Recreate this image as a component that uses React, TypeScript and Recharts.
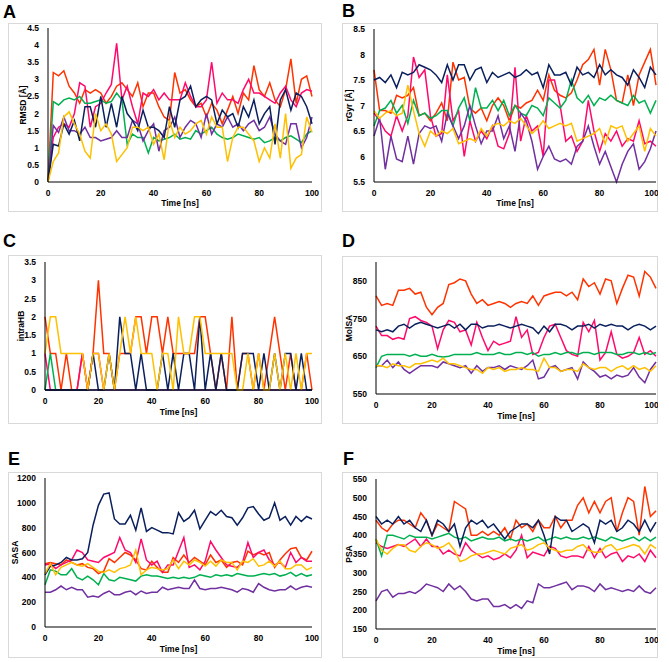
import { Label, Line, LineChart, XAxis, YAxis } from 'recharts';

const time = [
  0, 2, 4, 6, 8, 10, 12, 14, 16, 18,
  20, 22, 24, 26, 28, 30, 32, 34, 36, 38,
  40, 42, 44, 46, 48, 50, 52, 54, 56, 58,
  60, 62, 64, 66, 68, 70, 72, 74, 76, 78,
  80, 82, 84, 86, 88, 90, 92, 94, 96, 98,
  100,
];
const xTicks = [0, 20, 40, 60, 80, 100];

// A: RMSD
const rmsdOrange = [
  0, 3.2, 3.1, 3.25, 2.8, 2.6, 2.3, 2.7, 2.6, 2.7,
  2.6, 2.3, 2.5, 2.8, 2.9, 2.7, 2.5, 2.9, 2.2, 2.6,
  2.6, 2.2, 1.9, 1.8, 3.2, 2.6, 2.7, 2.4, 2.2, 2.3,
  1.9, 2.3, 2.1, 1.7, 2.1, 2.5, 2.0, 2.6, 2.4, 3.4,
  2.7, 2.5, 2.9, 2.4, 2.2, 2.7, 3.6, 2.3, 3.0, 3.1,
  2.5,
];
const rmsdPink = [
  0, 1.3, 1.6, 1.7, 1.6, 2.0, 2.9, 2.8, 1.6, 2.2,
  2.3, 2.6, 2.85, 4.05, 2.4, 2.8, 2.2, 1.7, 2.6, 2.5,
  2.7, 2.4, 2.6, 2.4, 2.4, 2.4, 2.9, 2.5, 2.2, 2.2,
  2.4, 3.5, 2.3, 2.6, 2.4, 2.4, 2.3, 2.7, 3.0, 2.6,
  2.6, 2.5, 2.4, 2.3, 2.6, 2.8, 2.4, 2.2, 2.6, 2.7,
  2.65,
];
const rmsdGreen = [
  0, 2.35, 2.25, 2.4, 2.45, 2.4, 2.5, 2.3, 2.3, 2.35,
  2.4, 2.3, 2.35, 2.6, 2.4, 1.1, 1.4, 1.3, 1.3, 0.85,
  1.3, 1.2, 1.25, 1.3, 1.4, 1.25, 1.3, 1.25, 1.5, 1.4,
  1.5, 1.6, 1.4, 1.3, 1.25, 1.3, 1.4, 1.35, 1.3, 1.25,
  1.3, 1.15, 1.2, 1.3, 1.2, 1.3, 1.35, 1.25, 1.15, 1.4,
  1.5,
];
const rmsdNavy = [
  0, 1.1, 1.05, 1.7, 1.4, 1.8, 1.2, 2.2, 2.2, 1.6,
  2.5, 1.6, 2.3, 1.6, 2.5, 2.0, 1.8, 1.5, 2.1, 1.6,
  1.6, 1.5, 1.3, 2.2, 1.6, 2.4, 2.5, 2.8, 2.2, 2.4,
  2.5, 2.4, 1.7, 2.1, 1.9, 2.0, 1.6, 2.2, 1.9, 2.4,
  1.7, 2.0, 2.2, 1.1, 2.4, 2.7, 2.1, 2.6, 2.5, 2.2,
  1.7,
];
const rmsdYellow = [
  0, 0.6, 0.85, 1.9, 2.05, 1.7, 1.4, 0.9, 0.7, 2.0,
  1.5, 1.7, 1.4, 0.6, 0.8, 1.0, 1.6, 1.6, 1.5, 1.6,
  1.1, 1.4, 0.65, 1.8, 1.3, 1.6, 1.4, 1.5, 1.7, 1.8,
  1.4, 1.9, 1.6, 1.6, 0.6, 1.3, 1.6, 1.6, 1.4, 1.2,
  0.6, 1.0, 0.7, 1.7, 0.7, 2.0, 0.4, 0.7, 0.8, 1.9,
  1.45,
];
const rmsdPurple = [
  0, 1.65, 1.45, 1.9, 1.5, 1.5, 1.4, 1.6, 1.3, 1.3,
  1.2, 1.25, 1.3, 1.5, 1.3, 1.3, 1.8, 1.7, 1.2, 1.5,
  1.7, 0.9, 1.5, 1.6, 1.9, 1.3, 1.6, 1.8, 1.7, 1.3,
  2.0, 1.4, 1.7, 1.6, 1.9, 1.6, 1.7, 1.5, 1.7, 1.8,
  1.5, 1.6, 1.9, 1.4, 1.2, 1.1, 1.7, 1.7, 1.0, 1.3,
  1.9,
];

// B: rGyr
const rgyrOrange = [
  7.7, 6.9, 6.9, 6.85, 7.2, 7.15, 7.2, 7.35, 6.8, 6.85,
  6.7, 6.85, 7.05, 6.7, 7.85, 7.5, 7.55, 6.95, 6.85, 6.95,
  6.7, 7.0, 7.15, 7.0, 6.7, 7.0, 6.95, 7.05, 7.1, 7.3,
  7.1, 7.6, 7.3, 7.2, 7.15, 7.25, 7.5, 7.8, 7.9, 8.1,
  7.4, 8.1, 7.7, 7.1, 7.05, 7.6, 7.0, 7.6, 7.85, 8.1,
  7.4,
];
const rgyrPink = [
  6.85, 6.7, 6.5, 6.4, 6.8, 6.5, 6.8, 7.95, 7.55, 7.7,
  6.8, 6.4, 6.45, 7.6, 6.7, 6.9, 6.0, 6.7, 6.3, 6.5,
  6.35, 6.6, 6.2, 6.15, 6.45, 7.75, 6.3, 6.8, 6.5, 6.6,
  6.0, 7.5, 7.5, 7.0, 6.3, 6.4, 6.1, 6.3, 7.1, 6.5,
  6.1, 6.45, 6.3, 6.5, 6.2, 6.35, 6.3, 6.7, 6.25, 6.3,
  6.2,
];
const rgyrGreen = [
  6.6, 6.9, 6.95, 7.1, 6.85, 7.0, 6.65, 7.1, 6.8, 6.85,
  6.75, 6.8, 6.9, 6.9, 6.6, 6.95, 7.15, 6.7, 7.35, 6.95,
  6.95, 7.1, 6.9, 7.1, 6.8, 7.0, 6.85, 6.8, 7.0, 6.95,
  6.8, 7.15, 7.05, 6.95, 7.1, 7.5, 7.15, 7.05, 7.2, 7.0,
  7.15, 7.1, 7.2, 7.1, 7.05, 7.0, 7.2, 7.05, 7.1, 6.85,
  7.1,
];
const rgyrNavy = [
  7.5, 7.55, 7.45, 7.6, 7.35, 7.65, 7.6, 7.65, 7.8, 7.75,
  7.7, 7.6, 7.45, 7.8, 7.5, 7.8, 7.8, 7.5, 7.7, 7.75,
  7.45, 7.65, 7.55, 7.6, 7.65, 7.55, 7.6, 7.7, 7.6, 7.65,
  7.35, 7.8, 7.6, 7.6, 7.65, 7.4, 7.75, 7.6, 7.65, 7.55,
  7.8, 7.6, 7.7, 7.6, 7.55, 7.4, 7.7, 7.55, 7.35, 7.75,
  7.6,
];
const rgyrYellow = [
  6.9, 6.75, 6.85, 6.9, 6.8, 6.85, 7.4, 6.9, 6.45, 6.2,
  6.5, 6.4, 6.5, 6.45, 6.55, 6.25, 6.3, 6.35, 6.3, 6.55,
  6.4, 6.6, 6.65, 6.6, 6.7, 6.65, 6.75, 6.6, 6.45, 6.55,
  6.7, 6.55, 6.6, 6.65, 6.6, 6.65, 6.3, 6.35, 6.4, 6.45,
  6.55, 6.25, 6.6, 6.55, 6.6, 6.3, 6.45, 6.6, 6.1, 6.55,
  6.4,
];
const rgyrPurple = [
  6.4, 6.75, 5.75, 6.4, 5.95, 5.9, 6.4, 5.85, 6.45, 6.6,
  6.55, 6.6, 6.3, 6.85, 6.6, 6.35, 6.6, 7.0, 6.6, 6.25,
  6.5, 6.5, 6.8, 6.35, 6.6, 6.1, 6.85, 6.7, 6.3, 5.75,
  6.0, 6.2, 5.95, 5.9, 5.95, 5.85, 6.2, 6.3, 6.6, 6.2,
  5.85, 6.1, 5.8, 5.5, 5.85, 6.1, 6.25, 5.75, 5.9, 6.15,
  6.5,
];

// C: intraHB
const hbOrange = [
  2, 1, 1, 0, 1, 0, 0, 1, 0, 1,
  3, 1, 1, 0, 1, 1, 1, 2, 2, 1,
  2, 2, 1, 2, 1, 1, 1, 1, 1, 2,
  2, 1, 0, 1, 0, 2, 0, 1, 1, 0,
  1, 0, 1, 2, 1, 0, 1, 0, 0, 1,
  0,
];
const hbPink = [
  1, 0, 0, 0, 0, 0, 0, 1, 0, 1,
  1, 0, 0, 0, 0, 0, 0, 0, 0, 0,
  0, 0, 0, 0, 0, 0, 0, 0, 0, 0,
  0, 0, 0, 0, 0, 0, 0, 0, 0, 0,
  0, 0, 0, 0, 0, 0, 0, 0, 0, 0,
  0,
];
const hbGreen = [
  0, 1, 0, 0, 0, 0, 0, 0, 0, 0,
  0, 0, 0, 0, 0, 0, 0, 0, 0, 0,
  0, 0, 0, 0, 0, 0, 0, 0, 0, 0,
  0, 0, 0, 0, 0, 0, 0, 0, 0, 0,
  0, 0, 0, 0, 0, 0, 0, 0, 0, 0,
  0,
];
const hbNavy = [
  0, 0, 0, 0, 0, 0, 0, 0, 0, 1,
  0, 0, 1, 0, 2, 1, 1, 0, 1, 0,
  0, 0, 1, 0, 1, 0, 1, 1, 0, 2,
  0, 1, 0, 1, 0, 0, 0, 1, 1, 1,
  0, 1, 0, 1, 0, 1, 1, 0, 1, 0,
  0,
];
const hbYellow = [
  1, 2, 2, 1, 1, 1, 1, 1, 0, 1,
  1, 0, 1, 0, 1, 2, 1, 2, 1, 1,
  1, 0, 1, 1, 0, 2, 1, 1, 2, 2,
  1, 1, 1, 1, 1, 1, 0, 0, 1, 0,
  1, 0, 0, 1, 0, 1, 0, 1, 0, 1,
  1,
];
const hbPurple = [
  0, 0, 0, 0, 0, 0, 0, 0, 0, 0,
  0, 0, 0, 0, 0, 0, 0, 0, 0, 0,
  0, 0, 0, 0, 0, 0, 0, 0, 0, 0,
  0, 0, 0, 0, 0, 0, 0, 0, 0, 0,
  0, 0, 0, 0, 0, 0, 0, 0, 0, 0,
  0,
];

// D: MolSA
const molOrange = [
  810, 785, 790, 785, 825, 825, 830, 815, 820, 780,
  760, 780, 790, 840, 845, 855, 850, 815, 790, 800,
  785, 790, 795, 790, 780, 790, 795, 790, 810, 785,
  810, 815, 820, 820, 810, 820, 800, 855, 835, 845,
  815, 855, 850, 790, 830, 865, 860, 810, 875, 860,
  830,
];
const molPink = [
  730, 705, 705, 695, 700, 695, 750, 755, 745, 740,
  730, 670, 720, 745, 740, 715, 720, 680, 740, 700,
  665, 690, 680, 685, 690, 755, 700, 720, 655, 660,
  700, 730, 735, 700, 665, 655, 650, 740, 715, 745,
  640, 660, 715, 655, 645, 650, 660, 700, 655, 665,
  650,
];
const molGreen = [
  620, 650, 655, 655, 655, 655, 650, 655, 650, 650,
  655, 650, 648, 650, 655, 655, 655, 655, 660, 655,
  655, 655, 660, 655, 655, 660, 660, 655, 660, 650,
  655, 655, 660, 655, 660, 660, 655, 660, 660, 655,
  660, 660, 660, 655, 655, 660, 660, 655, 660, 655,
  660,
];
const molNavy = [
  720, 715, 720, 715, 730, 735, 725, 735, 740, 735,
  730, 725, 730, 735, 725, 735, 720, 735, 735, 725,
  730, 730, 735, 730, 725, 730, 735, 730, 725, 710,
  730, 715, 735, 735, 730, 720, 730, 730, 735, 725,
  735, 730, 735, 730, 730, 720, 730, 735, 730, 720,
  730,
];
const molYellow = [
  625, 625, 620, 630, 625, 625, 620, 630, 630, 635,
  640, 635, 645, 630, 630, 625, 620, 615, 615, 605,
  620, 615, 620, 610, 615, 615, 620, 615, 615, 610,
  645, 620, 620, 610, 615, 615, 610, 630, 620, 615,
  620, 620, 610, 620, 625, 615, 625, 615, 620, 610,
  625,
];
const molPurple = [
  625, 625, 640, 620, 635, 615, 605, 615, 625, 625,
  625, 620, 635, 630, 625, 620, 625, 605, 625, 610,
  620, 620, 625, 615, 625, 620, 615, 625, 640, 590,
  595, 620, 625, 610, 615, 620, 590, 635, 620, 610,
  595, 600, 590, 600, 595, 600, 620, 595, 580, 615,
  635,
];

// E: SASA
const sasaOrange = [
  510, 520, 510, 500, 540, 520, 500, 510, 480, 470,
  430, 450, 550, 520, 560, 600, 580, 540, 470, 460,
  530, 480, 440, 440, 560, 520, 580, 520, 560, 530,
  500, 580, 520, 540, 480, 520, 530, 500, 610, 580,
  600, 580, 600, 480, 540, 590, 630, 640, 560, 540,
  610,
];
const sasaPink = [
  500, 510, 470, 500, 520, 540, 620, 600, 540, 530,
  520, 560, 580, 600, 720, 620, 600, 520, 710, 540,
  500, 530, 440, 500, 500, 610, 720, 480, 500, 460,
  530, 690, 620, 560, 500, 490, 480, 520, 680, 560,
  600, 620, 540, 500, 520, 480, 600, 520, 560, 530,
  530,
];
const sasaGreen = [
  340, 460, 450, 420, 420, 470, 400, 380, 410, 380,
  340, 430, 380, 370, 400, 390, 380, 370, 410, 420,
  410, 410, 400, 390, 400, 390, 400, 390, 400, 420,
  410, 400, 420, 410, 420, 410, 430, 420, 410, 410,
  420, 430, 420, 430, 410, 420, 440, 410, 430, 410,
  420,
];
const sasaNavy = [
  420, 490, 500, 520, 560, 540, 540, 550, 600, 820,
  980, 1070, 1080, 870, 830, 830, 900, 780, 960, 770,
  800, 780, 760, 760, 750, 920, 850, 880, 940, 790,
  860, 930, 900, 940, 890, 880, 820, 880, 960, 970,
  910, 860, 880, 1000, 860, 890, 820, 890, 850, 890,
  870,
];
const sasaYellow = [
  430, 510, 420, 480, 500, 520, 500, 490, 510, 480,
  450, 440, 460, 440, 470, 480, 500, 620, 420, 460,
  480, 470, 460, 470, 540, 470, 530, 500, 540, 520,
  490, 530, 490, 540, 520, 520, 460, 530, 520, 550,
  490, 500, 530, 490, 530, 470, 470, 500, 500, 460,
  480,
];
const sasaPurple = [
  280, 280, 300, 330, 300, 320, 300, 300, 240, 250,
  240, 270, 290, 260, 260, 280, 290, 260, 290, 270,
  280, 280, 320, 300, 310, 320, 310, 310, 380, 310,
  300, 310, 310, 320, 310, 300, 280, 310, 300, 280,
  350, 320, 300, 290, 300, 300, 330, 300, 320, 330,
  320,
];

// F: PSA
const psaOrange = [
  440, 420, 410, 430, 440, 440, 430, 420, 460, 440,
  400, 430, 420, 410, 490, 480, 470, 400, 400, 410,
  400, 410, 400, 420, 390, 440, 420, 430, 410, 440,
  420, 420, 450, 420, 440, 440, 480, 500, 460, 490,
  460, 490, 500, 410, 460, 500, 490, 400, 530, 450,
  465,
];
const psaPink = [
  380, 370, 365, 370, 375, 370, 380, 390, 370, 390,
  370, 370, 350, 360, 350, 345, 380, 360, 350, 340,
  345, 335, 340, 350, 340, 360, 400, 340, 355, 350,
  345, 370, 365, 345, 340, 345, 345, 340, 370, 340,
  365, 340, 350, 355, 330, 345, 340, 350, 330, 360,
  340,
];
const psaGreen = [
  390, 345, 400, 400, 395, 390, 400, 395, 395, 395,
  390, 395, 400, 405, 395, 390, 395, 385, 390, 395,
  390, 390, 395, 385, 390, 385, 390, 385, 390, 395,
  385, 390, 395, 390, 395, 390, 390, 395, 390, 395,
  390, 385, 395, 390, 385, 390, 395, 385, 395, 385,
  395,
];
const psaNavy = [
  450, 430, 440, 430, 450, 430, 440, 420, 410, 440,
  400, 440, 430, 410, 430, 370, 420, 440, 430, 440,
  420, 430, 410, 390, 410, 420, 430, 430, 420, 440,
  400, 350, 450, 440, 440, 410, 420, 430, 420, 380,
  440, 430, 440, 410, 420, 440, 430, 410, 440, 410,
  435,
];
const psaYellow = [
  390, 360, 350, 365, 375, 375, 360, 355, 370, 380,
  375, 365, 370, 380, 360, 330, 335, 345, 350, 350,
  355, 360, 355, 350, 365, 370, 375, 360, 365, 375,
  380, 365, 360, 355, 360, 360, 370, 375, 360, 355,
  355, 370, 375, 360, 365, 370, 375, 370, 350, 375,
  365,
];
const psaPurple = [
  225, 250, 255, 235, 245, 245, 250, 245, 255, 270,
  265, 260, 250, 270, 255, 265, 250, 230, 225, 230,
  230, 210, 210, 215, 205, 215, 205, 225, 220, 270,
  260, 260, 265, 270, 275, 255, 265, 265, 260, 250,
  270, 255, 260, 255, 250, 255, 250, 265, 250, 245,
  260,
];

const ORANGE = '#ff3300';
const PINK = '#ff0a6c';
const GREEN = '#00b050';
const NAVY = '#0a1f5c';
const YELLOW = '#ffc000';
const PURPLE = '#7030a0';

const FONT = '"Liberation Sans", Arial, sans-serif';

type Series = { key: string; color: string; values: number[] };

interface PanelProps {
  frame: [number, number, number, number];
  plot: [number, number, number, number];
  yDomain: [number, number];
  yTicks: number[];
  yTitle: string;
  yTitleX: number;
  xTitleY: number;
  series: Series[];
}

const Panel = ({ frame, plot, yDomain, yTicks, yTitle, yTitleX, xTitleY, series }: PanelProps) => {
  const [fx, fy, fw, fh] = frame;
  const [px1, py1, px2, py2] = plot;
  const rows = time.map((t, i) => {
    const row: Record<string, number> = { t };
    series.forEach((s) => {
      row[s.key] = s.values[i];
    });
    return row;
  });
  const tickStyle = { fontSize: 8.5, fontWeight: 700, fill: '#000', fontFamily: FONT };
  const titleStyle = { fontSize: 8.5, fontWeight: 700, fill: '#000', fontFamily: FONT } as const;
  const cy = (py1 + py2) / 2 - fy;
  const tx = yTitleX - fx;
  return (
    <>
      <div
        style={{
          position: 'absolute',
          left: fx,
          top: fy,
          width: fw,
          height: fh,
          border: '1px solid #d9d9d9',
          boxSizing: 'border-box',
        }}
      />
      <div style={{ position: 'absolute', left: fx, top: fy, width: fw, height: fh }}>
        <LineChart
          width={fw}
          height={fh}
          data={rows}
          margin={{ top: py1 - fy, right: fx + fw - px2, left: 2, bottom: 0 }}
        >
          <XAxis
            dataKey="t"
            type="number"
            domain={[0, 100]}
            ticks={xTicks}
            height={fy + fh - py2}
            tick={tickStyle}
            tickLine={false}
            axisLine={{ stroke: '#000', strokeWidth: 1 }}
          >
            <Label
              content={() => (
                <text
                  x={(px1 + px2) / 2 - fx}
                  y={xTitleY - fy}
                  textAnchor="middle"
                  dominantBaseline="central"
                  style={titleStyle}
                >
                  Time [ns]
                </text>
              )}
            />
          </XAxis>
          <YAxis
            type="number"
            domain={yDomain}
            ticks={yTicks}
            width={px1 - fx - 2}
            tick={tickStyle}
            tickLine={false}
            tickMargin={3}
            axisLine={{ stroke: '#000', strokeWidth: 1 }}
          >
            <Label
              content={() => (
                <text
                  x={tx}
                  y={cy}
                  transform={`rotate(-90 ${tx} ${cy})`}
                  textAnchor="middle"
                  dominantBaseline="central"
                  style={titleStyle}
                >
                  {yTitle}
                </text>
              )}
            />
          </YAxis>
          {series.map((s) => (
            <Line
              key={s.key}
              type="linear"
              dataKey={s.key}
              stroke={s.color}
              strokeWidth={1.5}
              dot={false}
              isAnimationActive={false}
            />
          ))}
        </LineChart>
      </div>
    </>
  );
};

const mk = (o: number[], p: number[], g: number[], n: number[], y: number[], u: number[]): Series[] => [
  { key: 'orange', color: ORANGE, values: o },
  { key: 'pink', color: PINK, values: p },
  { key: 'green', color: GREEN, values: g },
  { key: 'purple', color: PURPLE, values: u },
  { key: 'navy', color: NAVY, values: n },
  { key: 'yellow', color: YELLOW, values: y },
];

const letters = [
  { t: 'A', x: 3, y: 18 },
  { t: 'B', x: 342, y: 17 },
  { t: 'C', x: 3, y: 247 },
  { t: 'D', x: 342, y: 247 },
  { t: 'E', x: 8, y: 465 },
  { t: 'F', x: 343, y: 465 },
];

export default function App() {
  return (
    <div style={{ position: 'absolute', left: 0, top: 0, width: 669, height: 662, background: '#fff' }}>
      <svg width={669} height={662} style={{ position: 'absolute', left: 0, top: 0 }}>
        {letters.map((l) => (
          <text key={l.t} x={l.x} y={l.y} style={{ fontFamily: FONT, fontWeight: 700, fontSize: 18 }}>
            {l.t}
          </text>
        ))}
      </svg>
      <Panel
        frame={[8, 23, 314, 189]}
        plot={[48, 28, 312, 182]}
        yDomain={[0, 4.5]}
        yTicks={[0, 0.5, 1, 1.5, 2, 2.5, 3, 3.5, 4, 4.5]}
        yTitle="RMSD [Å]"
        yTitleX={23}
        xTitleY={203}
        series={mk(rmsdOrange, rmsdPink, rmsdGreen, rmsdNavy, rmsdYellow, rmsdPurple)}
      />
      <Panel
        frame={[342, 23, 316, 189]}
        plot={[374, 29, 656, 182]}
        yDomain={[5.5, 8.5]}
        yTicks={[5.5, 6, 6.5, 7, 7.5, 8, 8.5]}
        yTitle="rGyr [Å]"
        yTitleX={349}
        xTitleY={203}
        series={mk(rgyrOrange, rgyrPink, rgyrGreen, rgyrNavy, rgyrYellow, rgyrPurple)}
      />
      <Panel
        frame={[8, 255, 314, 169]}
        plot={[45, 262, 312, 390]}
        yDomain={[0, 3.5]}
        yTicks={[0, 0.5, 1, 1.5, 2, 2.5, 3, 3.5]}
        yTitle="intraHB"
        yTitleX={21}
        xTitleY={412}
        series={mk(hbOrange, hbPink, hbGreen, hbNavy, hbYellow, hbPurple)}
      />
      <Panel
        frame={[342, 256, 316, 168]}
        plot={[376, 262, 656, 394]}
        yDomain={[550, 900]}
        yTicks={[550, 650, 750, 850]}
        yTitle="MolSA"
        yTitleX={349}
        xTitleY={416}
        series={mk(molOrange, molPink, molGreen, molNavy, molYellow, molPurple)}
      />
      <Panel
        frame={[8, 472, 314, 186]}
        plot={[45, 478, 312, 627]}
        yDomain={[0, 1200]}
        yTicks={[0, 200, 400, 600, 800, 1000, 1200]}
        yTitle="SASA"
        yTitleX={15}
        xTitleY={649}
        series={mk(sasaOrange, sasaPink, sasaGreen, sasaNavy, sasaYellow, sasaPurple)}
      />
      <Panel
        frame={[342, 472, 316, 186]}
        plot={[376, 479, 656, 629]}
        yDomain={[150, 550]}
        yTicks={[150, 200, 250, 300, 350, 400, 450, 500, 550]}
        yTitle="PSA"
        yTitleX={349}
        xTitleY={651}
        series={mk(psaOrange, psaPink, psaGreen, psaNavy, psaYellow, psaPurple)}
      />
    </div>
  );
}
